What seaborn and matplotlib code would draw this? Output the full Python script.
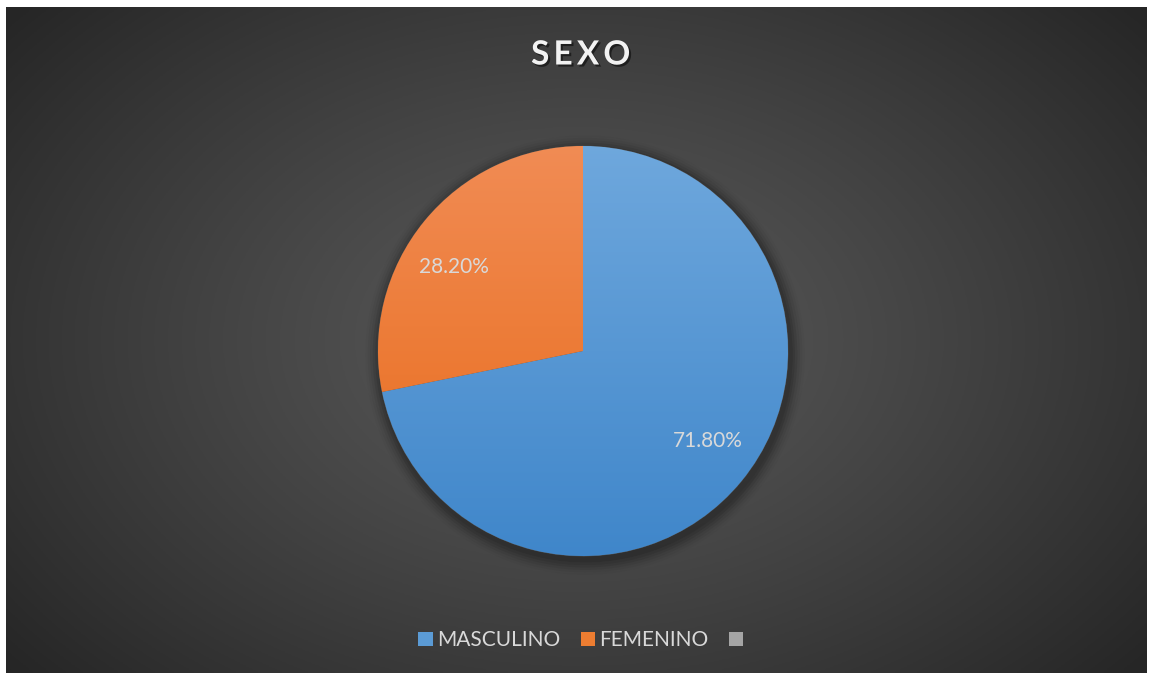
import numpy as np
import matplotlib
matplotlib.use("Agg")
import matplotlib.pyplot as plt
import matplotlib.patheffects as pe
from matplotlib.patches import Patch
from matplotlib.colors import LinearSegmentedColormap
import seaborn as sns

categories = ["MASCULINO", "FEMENINO", ""]
values = [71.8, 28.2, 0.0]
title = "SEXO"

sns.set_theme(style="white")
plt.rcParams['font.family'] = ['Lato', 'DejaVu Sans']

W, H = 1149, 675
fig = plt.figure(figsize=(W / 100, H / 100), dpi=100, facecolor="white")

# background panel with radial gradient
bg = fig.add_axes([6 / W, 2 / H, (1147 - 6) / W, (673 - 7) / H])
bg.set_axis_off()
nx, ny = 400, 240
xx, yy = np.meshgrid(np.linspace(-1, 1, nx), np.linspace(-1, 1, ny))
r = np.sqrt((xx * 1.0) ** 2 + (yy * 0.85) ** 2) / 1.3
r = np.clip(r, 0, 1)
c0, c1 = 0x59 / 255, 0x26 / 255
val = c0 - (c0 - c1) * r ** 1.2
img = np.dstack([val, val, val])
bg.imshow(img, extent=[0, 1, 0, 1], aspect="auto", origin="lower")
bg.set_xlim(0, 1)
bg.set_ylim(0, 1)

# pie axes
R = 205
cx, cy = 583, 351
span = 2.6
side = R * span
ax = fig.add_axes([(cx - side / 2) / W, (H - cy - side / 2) / H, side / W, side / H])
ax.set_axis_off()

base = ["#5B9BD5", "#ED7D31", "#A5A5A5"]
sns.set_palette(base)
grads = [("#6FA8DD", "#3F86CA"), ("#F18C55", "#E86A18")]

plot_vals = [v for v in values if v > 0]
# soft shadow
for i, a in enumerate(np.linspace(0.10, 0.02, 6)):
    circ = plt.Circle((0.01, -0.02), 1.0 + 0.012 * (i + 1), color="black", alpha=a, lw=0, zorder=0)
    ax.add_patch(circ)

wedges, texts, autotexts = ax.pie(
    plot_vals, colors=base[:len(plot_vals)], startangle=90, counterclock=False,
    autopct="%.2f%%", pctdistance=0.75,
    wedgeprops=dict(linewidth=0.6, edgecolor="#505050"),
    textprops=dict(color="#D9D9D9", fontsize=15),
)
for w, (top, bot) in zip(wedges, grads):
    cmap = LinearSegmentedColormap.from_list("g", [bot, top])
    grad = np.linspace(0, 1, 256).reshape(-1, 1)
    im = ax.imshow(grad, extent=[-1.02, 1.02, -1.02, 1.02], origin="lower", cmap=cmap,
                   aspect="auto", zorder=w.get_zorder() + 0.1)
    im.set_clip_path(w)
# nudge label placement to match the original layout (angle offsets in degrees)
angle_shift = [3.5, 6.0]
for w, t, s in zip(wedges, autotexts, angle_shift):
    mid = np.deg2rad((w.theta1 + w.theta2) / 2 + s)
    t.set_position((0.75 * np.cos(mid), 0.75 * np.sin(mid)))
    t.set_zorder(10)
ax.set_xlim(-span / 2, span / 2)
ax.set_ylim(-span / 2, span / 2)
ax.set_aspect("equal")

# title
fig.text(cx / W - 0.002, 1 - 55 / H, "\u2009".join(title), ha="center", va="center", color="#F2F2F2",
         fontsize=24, fontweight="bold",
         path_effects=[pe.withSimplePatchShadow(offset=(1.5, -1.5), shadow_rgbFace="black", alpha=0.5)])

# legend
handles = [Patch(facecolor=c, edgecolor="none") for c in base]
leg = fig.legend(handles, categories, loc="center", bbox_to_anchor=(cx / W, 1 - 640 / H), ncol=3,
                 frameon=False, fontsize=15, labelcolor="#D9D9D9",
                 handlelength=0.68, handleheight=0.68, handletextpad=0.2, columnspacing=1.0)

fig.savefig("out.png", dpi=100, facecolor="white")
